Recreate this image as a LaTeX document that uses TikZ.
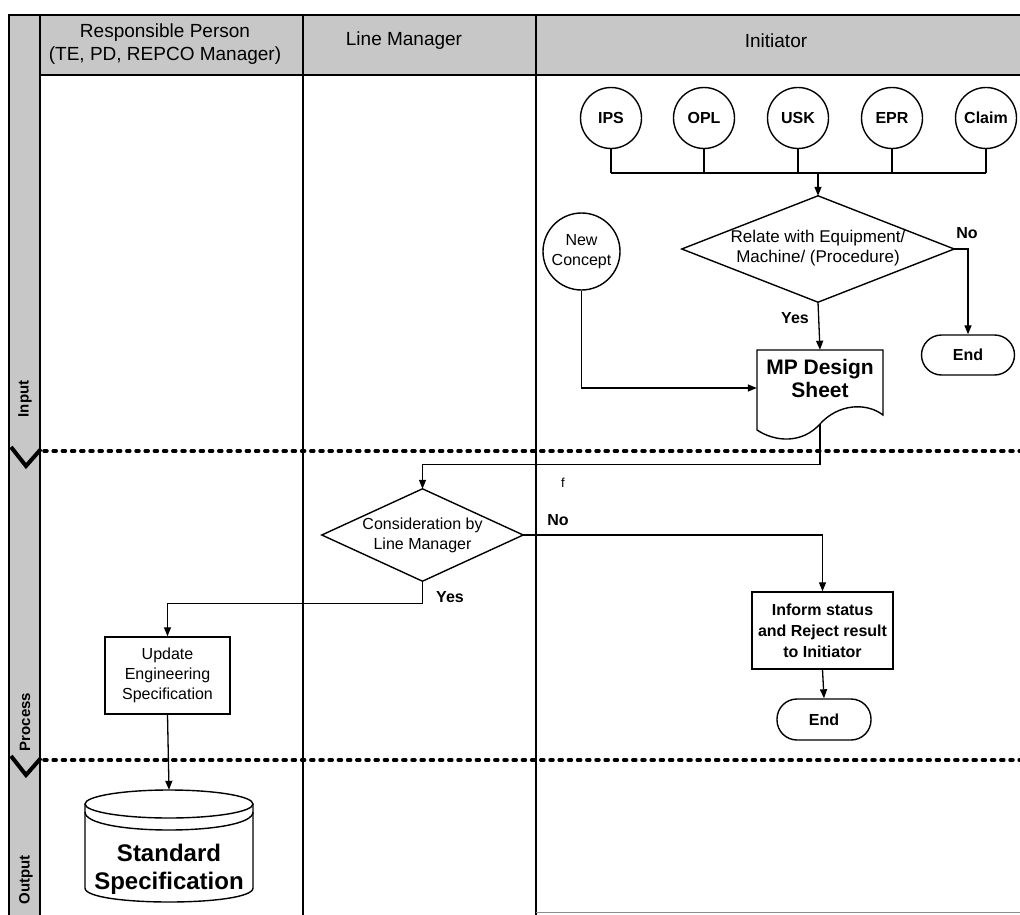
\documentclass[tikz,border=0pt]{standalone}
\usepackage{fontspec}
\setmainfont{Liberation Sans}
\usetikzlibrary{arrows.meta,calc}
\newcommand{\fs}[2]{\fontsize{#1}{#2}\selectfont}
\begin{document}
\begin{tikzpicture}[x=1pt,y=-1pt,
  frame/.style={line width=1.8pt},
  hdrfill/.style={fill=black!22},
  hdrtext/.style={font=\fs{19}{23}, align=center, inner sep=0pt},
  stage/.style={font=\fs{15}{18}\bfseries, rotate=90, inner sep=0pt},
  sep/.style={line width=3.5pt, dash pattern=on 3pt off 6.2pt, line cap=round},
  chev/.style={line width=4pt, line join=miter},
  ln/.style={line width=1.3pt},
  arr/.style={line width=1.3pt, -{Triangle[length=9pt,width=7pt]}},
  shp/.style={draw, line width=1.4pt, fill=white},
  src/.style={shp, circle, minimum size=61pt, inner sep=0pt, font=\fs{16}{18}\bfseries},
  box/.style={shp, rectangle, inner sep=0pt, align=center},
  endbox/.style={shp, rectangle, rounded corners=20pt, inner sep=0pt, font=\fs{16}{18}\bfseries},
  hole/.style={rectangle, inner sep=0pt, draw=none},
  lbl/.style={font=\fs{16}{18}\bfseries, inner sep=0pt}
]
\useasboundingbox (0,0) rectangle (1020,915);
% table background
\fill[hdrfill] (9,15) rectangle (1020,75);
\fill[hdrfill] (9,15) rectangle (40,915);
\draw[frame] (1020,15) -- (9,15) -- (9,915);
\draw[frame] (40,15) -- (40,915);
\draw[frame] (40,75) -- (1020,75);
\draw[frame] (303,15) -- (303,915);
\draw[frame] (536,15) -- (536,915);
\draw[line width=0.8pt, black!45] (536,912) -- (1020,912);
% headers
\node[hdrtext] (h1) at (165,44) {Responsible Person\\(TE, PD, REPCO Manager)};
\node[hdrtext] (h2) at (404,41) {Line Manager};
\node[hdrtext] (h3) at (776,41) {Initiator};
% stage labels
\node[stage] (st1) at (25,399) {Input};
\node[stage] (st2) at (25,722) {Process};
\node[stage] (st3) at (26,880) {Output};
% separators
\draw[sep] (44,451) -- (1020,451);
\draw[sep] (44,760) -- (1020,760);
\draw[chev] (11,447) -- (26,466) -- (41,449);
\draw[chev] (11,756) -- (26,775) -- (41,758);
% source circles
\node[src] (ips) at (611,118) {IPS};
\node[src] (opl) at (704,118) {OPL};
\node[src] (usk) at (798,118) {USK};
\node[src] (epr) at (892,118) {EPR};
\node[src] (claim) at (986,118) {Claim};
\coordinate (bus) at (818,173);
\draw[ln] (ips.south) -- (ips.south |- bus);
\draw[ln] (opl.south) -- (opl.south |- bus);
\draw[ln] (usk.south) -- (usk.south |- bus);
\draw[ln] (epr.south) -- (epr.south |- bus);
\draw[ln] (claim.south) -- (claim.south |- bus);
\draw[ln] (ips.south |- bus) -- (claim.south |- bus);
% relate diamond
\node[hole, minimum width=272pt, minimum height=106pt] (relate) at (818,249) {};
\draw[shp] (relate.north) -- (relate.east) -- (relate.south) -- (relate.west) -- cycle;
\node[font=\fs{17}{20}, align=center, inner sep=0pt] (relatetext) at (818,248) {Relate with Equipment/\\Machine/ (Procedure)};
\draw[arr] (bus) -- (relate.north);
% end 1
\node[endbox, minimum width=93pt, minimum height=40pt] (end1) at (968,355) {End};
\draw[arr] (relate.east) -| (end1.north);
\node[lbl] (no1) at (967,233) {No};
% new concept
\node[src, minimum size=77pt, font=\fs{16}{20}, align=center] (newc) at (581.5,251.5) {New\\Concept};
% MP design sheet
\node[hole, minimum width=126pt, minimum height=76pt] (mp) at (820,388) {};
\draw[shp] (757,350) -- (883,350) -- (883,415) .. controls (866,402) and (838,404) .. (820,424) .. controls (802,444) and (775,442) .. (757,430) -- cycle;
\node[font=\fs{21}{23}\bfseries, align=center, inner sep=0pt] (mptext) at (820,378) {MP Design\\Sheet};
\coordinate (mpout) at (820,424);
\draw[arr] (relate.south) -- (mp.north);
\node[lbl] (yes1) at (795,318) {Yes};
\draw[arr] (newc.south) |- (mp.west);
% consideration diamond
\node[hole, minimum width=201pt, minimum height=92pt] (cons) at (422.5,535) {};
\draw[shp] (cons.north) -- (cons.east) -- (cons.south) -- (cons.west) -- cycle;
\node[font=\fs{16}{20}, align=center, inner sep=0pt] (constext) at (422.5,535) {Consideration by\\Line Manager};
\draw[arr] (mpout) |- ($(cons.north)+(0,-24)$) -- (cons.north);
\node[font=\fs{13}{15}, inner sep=0pt] (fmark) at (563,483) {f};
% inform
\node[box, minimum width=141pt, minimum height=77pt, font=\fs{16}{21}\bfseries] (inform) at (822.5,630.5) {Inform status\\and Reject result\\to Initiator};
\draw[arr] (cons.east) -| (inform.north);
\node[lbl] (no2) at (558,520) {No};
\node[endbox, minimum width=94pt, minimum height=41pt] (end2) at (824,719.5) {End};
\draw[arr] (inform.south) -- (end2.north);
% update
\node[box, minimum width=125pt, minimum height=77pt, font=\fs{16}{20}] (update) at (167.5,675.5) {Update\\Engineering\\Specification};
\draw[arr] (cons.south) -- ++(0,22) -| (update.north);
\node[lbl] (yes2) at (450,597) {Yes};
% cylinder
\node[hole, minimum width=168pt, minimum height=112pt] (cyl) at (169,846) {};
\fill[white] (85,804) -- (85,888) .. controls (85,906.67) and (253,906.67) .. (253,888) -- (253,804) -- cycle;
\draw[line width=1.4pt, fill=white] (169,804) ellipse [x radius=84pt, y radius=14pt];
\draw[line width=1.4pt] (85,812) .. controls (85,836) and (253,836) .. (253,812);
\draw[line width=1.4pt] (85,804) -- (85,888) .. controls (85,906.67) and (253,906.67) .. (253,888) -- (253,804);
\node[font=\fs{24}{28}\bfseries, align=center, inner sep=0pt] (cyltext) at (169,869) {Standard\\Specification};
\draw[arr] (update.south) -- (cyl.north);
\end{tikzpicture}
\end{document}
